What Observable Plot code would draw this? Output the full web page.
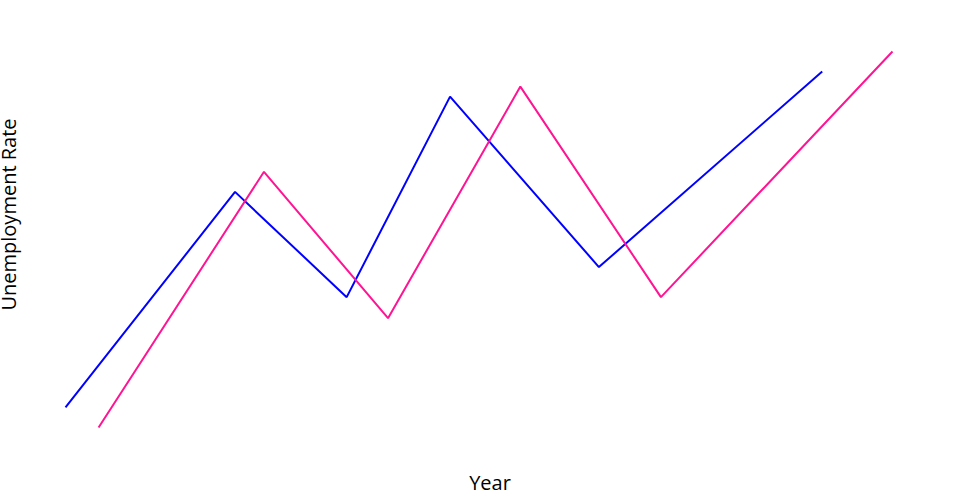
<!DOCTYPE html>
<html>
<head>
<meta charset="utf-8">
<script src="https://cdn.jsdelivr.net/npm/d3@7"></script>
<script src="https://cdn.jsdelivr.net/npm/@observablehq/plot@0.6"></script>
<style>
  html, body { margin: 0; padding: 0; background: #fff; }
</style>
</head>
<body>
<div id="chart"></div>
<script>
const yearsA = [2000, 2004.1, 2006.8, 2009.3, 2012.9, 2018.3];
const ratesA = [2.4, 6.7, 4.6, 8.6, 5.2, 9.1];
const yearsB = [2000.8, 2004.8, 2007.8, 2011.0, 2014.4, 2020];
const ratesB = [2.0, 7.1, 4.18, 8.8, 4.6, 9.5];
const xLabel = "Year";
const yLabel = "Unemployment Rate";

const dataA = yearsA.map((y, i) => ({year: y, rate: ratesA[i]}));
const dataB = yearsB.map((y, i) => ({year: y, rate: ratesB[i]}));

const chart = Plot.plot({
  width: 960,
  height: 500,
  marginLeft: 65,
  marginRight: 68,
  marginTop: 51,
  marginBottom: 73,
  style: {fontFamily: "'Open Sans', sans-serif", background: "#fff"},
  x: {domain: [2000, 2020], axis: null},
  y: {domain: [2.0, 9.5], axis: null},
  marks: [
    Plot.line(dataA, {x: "year", y: "rate", stroke: "#0000ff", strokeWidth: 2, strokeLinejoin: "miter", strokeLinecap: "butt"}),
    Plot.line(dataB, {x: "year", y: "rate", stroke: "#ff1493", strokeWidth: 2, strokeLinejoin: "miter", strokeLinecap: "butt"}),
    Plot.text([xLabel], {frameAnchor: "bottom", text: d => d, dx: 11, dy: 56, fontSize: 20, fill: "#000", lineAnchor: "middle"}),
    Plot.text([yLabel], {frameAnchor: "left", text: d => d, dx: -56, dy: -25, rotate: -90, fontSize: 20, fill: "#000", textAnchor: "middle", lineAnchor: "middle"})
  ]
});
document.getElementById("chart").appendChild(chart);
</script>
</body>
</html>
